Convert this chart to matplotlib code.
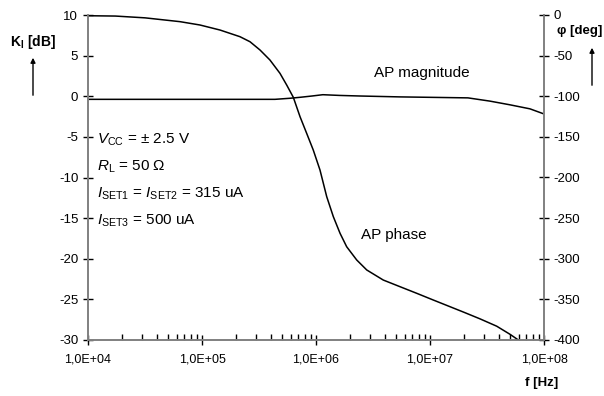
import numpy as np
import matplotlib.pyplot as plt
from matplotlib.ticker import FixedLocator, LogLocator, NullFormatter

plt.rcParams['font.family'] = 'Liberation Sans'
plt.rcParams['axes.unicode_minus'] = False
plt.rcParams['mathtext.fontset'] = 'custom'
plt.rcParams['mathtext.rm'] = 'Liberation Sans'
plt.rcParams['mathtext.it'] = 'Liberation Sans:italic'
plt.rcParams['mathtext.bf'] = 'Liberation Sans:bold'

# frequency (log10 Hz) and magnitude in dB
mag_logf = [4.0, 4.5, 5.0, 5.3, 5.64, 5.77, 5.86, 5.965, 6.06, 6.21, 6.386,
            6.737, 7.088, 7.333, 7.526, 7.70, 7.877, 8.0]
mag_db = [-0.38, -0.38, -0.38, -0.38, -0.38, -0.25, -0.13, 0.03, 0.19, 0.1,
          0.03, -0.08, -0.15, -0.2, -0.6, -1.05, -1.55, -2.18]

# frequency (log10 Hz) and phase in degrees
ph_logf = [4.0, 4.24, 4.5, 4.807, 4.982, 5.158, 5.333, 5.421, 5.509, 5.596,
           5.684, 5.743, 5.801, 5.860, 5.918, 5.976, 6.035, 6.094, 6.152,
           6.211, 6.269, 6.357, 6.445, 6.590, 6.737, 6.883, 7.029, 7.161,
           7.30, 7.439, 7.585, 7.702, 7.775]
ph_deg = [-0.9, -1.3, -3.5, -8.2, -12.3, -18.5, -26.7, -32.9, -43.1, -55.4,
          -71.8, -86.2, -101.3, -125.2, -145.6, -166.2, -190.8, -223.6, -248.2,
          -268.7, -285.2, -301.5, -313.8, -326.2, -334.4, -342.5, -350.8, -358.2,
          -366, -374, -383, -393, -400]

xticks = [1e4, 1e5, 1e6, 1e7, 1e8]
xlabels = ['1,0E+04', '1,0E+05', '1,0E+06', '1,0E+07', '1,0E+08']

fig = plt.figure(figsize=(6.04, 3.96), dpi=100)
ax = fig.add_axes([88 / 604, 1 - 340 / 396, 456 / 604, 325 / 396])
ax2 = ax.twinx()

ax.plot(10 ** np.array(mag_logf), mag_db, color='black', lw=1.1)
ax2.plot(10 ** np.array(ph_logf), ph_deg, color='black', lw=1.1)

ax.set_xscale('log')
ax.set_xlim(1e4, 1e8)
ax.set_ylim(-30, 10)
ax2.set_ylim(-400, 0)

ax.xaxis.set_major_locator(FixedLocator(xticks))
ax.set_xticklabels(xlabels)
ax.xaxis.set_minor_locator(LogLocator(base=10, subs=np.arange(2, 10)))
ax.xaxis.set_minor_formatter(NullFormatter())
ax.set_yticks(np.arange(-30, 11, 5))
ax2.set_yticks(np.arange(-400, 1, 50))

gray = '#808080'
for a in (ax, ax2):
    a.spines['top'].set_visible(False)
    for s in ('left', 'right', 'bottom'):
        a.spines[s].set_color(gray)
        a.spines[s].set_linewidth(1.2)

ax.tick_params(axis='x', which='major', direction='inout', length=7,
               width=1, color='black', labelsize=9, pad=6)
ax.tick_params(axis='x', which='minor', direction='in', length=4,
               width=1, color='black')
ax.tick_params(axis='y', direction='inout', length=7, width=1,
               color='black', labelsize=9.5)
ax2.tick_params(axis='y', direction='inout', length=7, width=1,
                color='black', labelsize=9.5)

# axis titles with arrows
fig.text(10 / 604, 1 - 42 / 396, r'$\mathbf{K}_\mathbf{I}$ [dB]',
         fontsize=10, fontweight='bold', va='center', ha='left')
fig.text(557 / 604, 1 - 31 / 396, 'φ [deg]', fontsize=9.5,
         fontweight='bold', va='center', ha='left')
fig.text(558 / 604, 1 - 383 / 396, 'f [Hz]', fontsize=9.5,
         fontweight='bold', va='center', ha='right')
ax.annotate('', xy=(33 / 604, 1 - 55 / 396), xycoords='figure fraction',
            xytext=(33 / 604, 1 - 98 / 396), textcoords='figure fraction',
            arrowprops=dict(arrowstyle='-|>', color='black', lw=1,
                            mutation_scale=7))
ax.annotate('', xy=(592 / 604, 1 - 45 / 396), xycoords='figure fraction',
            xytext=(592 / 604, 1 - 88 / 396), textcoords='figure fraction',
            arrowprops=dict(arrowstyle='-|>', color='black', lw=1,
                            mutation_scale=7))

# curve labels
ax.text(8.5e6, 2.9, 'AP magnitude', fontsize=11, ha='center', va='center')
ax.text(2.5e6, -17.1, 'AP phase', fontsize=11, ha='left', va='center')

# operating conditions
cond = [r'$V_{\mathrm{CC}}$ = ± 2.5 V',
        r'$R_{\mathrm{L}}$ = 50 Ω',
        r'$I_{\mathrm{SET1}}$ = $I_{\mathrm{SET2}}$ = 315 uA',
        r'$I_{\mathrm{SET3}}$ = 500 uA']
for i, t in enumerate(cond):
    ax.text(1.2e4, -5.3 - 3.35 * i, t, fontsize=11, ha='left', va='center')

fig.savefig('out.png', dpi=100)
